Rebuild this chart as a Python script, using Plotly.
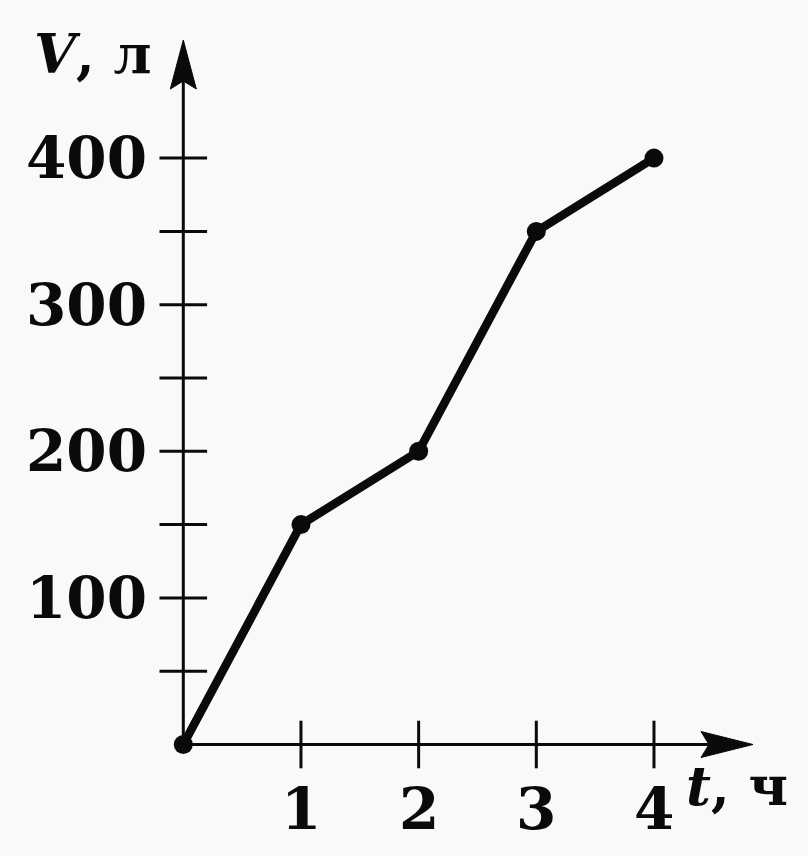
import plotly.graph_objects as go

# data
t_hours = [0, 1, 2, 3, 4]
volume_l = [0, 150, 200, 350, 400]
y_tick_vals = [50, 100, 150, 200, 250, 300, 350, 400]
y_label_vals = [100, 200, 300, 400]
y_label_text = ["100", "200", "300", "400"]
x_tick_vals = [1, 2, 3, 4]
x_label_text = ["1", "2", "3", "4"]

BG = "#f9f9f9"
INK = "#0a0a0a"
FONT = "DejaVu Serif"
FS = 58

# pixel mapping: origin at (183.3, 744.5); 117.67 px per hour, 1.466 px per litre
PX_X, PX_Y = 117.67, 1.466
OX, OY = 183.3, 744.5
W, H = 808, 856
xr = [(0 - OX) / PX_X, (W - OX) / PX_X]
yr = [(OY - H) / PX_Y, (OY - 0) / PX_Y]

x_tip = (753 - OX) / PX_X
y_tip = (OY - 40) / PX_Y

fig = go.Figure()

# tick marks crossing the axes
fig.add_trace(go.Scatter(
    x=[0] * len(y_tick_vals), y=y_tick_vals, mode="markers",
    marker=dict(symbol="line-ew", size=34, line=dict(color=INK, width=3)),
    hoverinfo="skip", showlegend=False, cliponaxis=False))
fig.add_trace(go.Scatter(
    x=x_tick_vals, y=[0] * len(x_tick_vals), mode="markers",
    marker=dict(symbol="line-ns", size=34, line=dict(color=INK, width=3)),
    hoverinfo="skip", showlegend=False, cliponaxis=False))

# data line
fig.add_trace(go.Scatter(
    x=t_hours, y=volume_l, mode="lines+markers",
    line=dict(color=INK, width=8.5),
    marker=dict(size=19, color=INK),
    showlegend=False, cliponaxis=False))

shapes = [
    dict(type="line", x0=0, y0=0, x1=0, y1=y_tip - 40 / PX_Y,
         line=dict(color=INK, width=3), layer="below"),
    dict(type="line", x0=0, y0=0, x1=x_tip - 40 / PX_X, y1=0,
         line=dict(color=INK, width=3), layer="below"),
    dict(type="path", xsizemode="pixel", ysizemode="pixel",
         xanchor=0, yanchor=y_tip,
         path="M 0,0 L -13,-49 L 0,-41 L 13,-49 Z",
         fillcolor=INK, line=dict(color=INK, width=1)),
    dict(type="path", xsizemode="pixel", ysizemode="pixel",
         xanchor=x_tip, yanchor=0,
         path="M 0,0 L -52,13 L -44,0 L -52,-13 Z",
         fillcolor=INK, line=dict(color=INK, width=1)),
]

font = dict(family=FONT, size=FS, color=INK, weight="bold")
font_lbl = dict(family=FONT, size=54, color=INK, weight="bold")
annotations = []
for v, txt in zip(y_label_vals, y_label_text):
    annotations.append(dict(x=(149 - OX) / PX_X, y=v, text=txt, showarrow=False,
                            xanchor="right", yanchor="middle", font=font))
for v, txt in zip(x_tick_vals, x_label_text):
    annotations.append(dict(x=v, y=(OY - 809) / PX_Y, text=txt, showarrow=False,
                            xanchor="center", yanchor="middle", font=font))
annotations.append(dict(x=(154 - OX) / PX_X, y=(OY - 54) / PX_Y,
                        text="<i>V</i>, л", showarrow=False,
                        xanchor="right", yanchor="middle", font=font_lbl))
annotations.append(dict(x=(737 - OX) / PX_X, y=(OY - 786) / PX_Y,
                        text="<i>t</i>, ч", showarrow=False,
                        xanchor="center", yanchor="middle", font=font_lbl))

fig.update_layout(
    width=W, height=H,
    margin=dict(l=0, r=0, t=0, b=0),
    paper_bgcolor=BG, plot_bgcolor=BG,
    xaxis=dict(range=xr, visible=False, fixedrange=True),
    yaxis=dict(range=yr, visible=False, fixedrange=True),
    shapes=shapes, annotations=annotations,
)

fig.write_html(
    "out.html",
    config={"displayModeBar": False},
    post_script="document.body.style.margin='0';document.body.style.background='%s';" % BG,
)
